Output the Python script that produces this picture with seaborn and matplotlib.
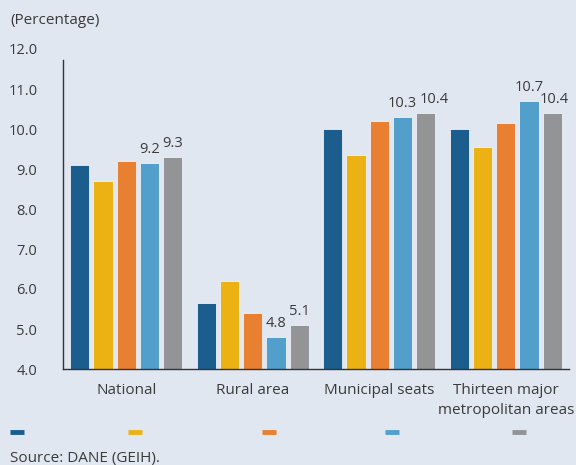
import matplotlib
matplotlib.use("Agg")
import matplotlib.pyplot as plt
import seaborn as sns
import pandas as pd
from matplotlib.lines import Line2D
from matplotlib.ticker import FixedLocator

categories = ["National", "Rural area", "Municipal seats", "Thirteen major\nmetropolitan areas"]
series_names = ["S1", "S2", "S3", "S4", "S5"]
s1 = [9.1, 5.65, 10.0, 10.0]
s2 = [8.7, 6.2, 9.35, 9.55]
s3 = [9.2, 5.4, 10.2, 10.15]
s4 = [9.15, 4.8, 10.3, 10.7]
s5 = [9.3, 5.1, 10.4, 10.4]
yticks = [4.0, 5.0, 6.0, 7.0, 8.0, 9.0, 10.0, 11.0, 12.0]

colors = ["#1b5e8e", "#ecb214", "#e97f31", "#539fcb", "#939496"]
bg = "#e1e7f1"
txt = "#3a3a3a"

rows = []
for name, vals in zip(series_names, [s1, s2, s3, s4, s5]):
    for c, v in zip(categories, vals):
        rows.append({"category": c, "series": name, "value": v})
df = pd.DataFrame(rows)

sns.set_theme(style="white")
plt.rcParams["font.family"] = ["Open Sans", "DejaVu Sans"]

fig = plt.figure(figsize=(5.76, 4.65), dpi=100, facecolor=bg)
ax = fig.add_axes([63/576, 1-369/465, (569-63)/576, (369-49)/465])
ax.set_facecolor(bg)

sns.barplot(data=df, x="category", y="value", hue="series", palette=colors,
            width=0.92, gap=0.17, ax=ax, legend=False, edgecolor="#eef2f8", linewidth=0.6,
            saturation=1)

# labels only on last two series
label_shift = {(4, 2): 6.0, (4, 3): 1.5}
for i, cont in enumerate(ax.containers):
    if i >= 3:
        anns = ax.bar_label(cont, fmt="%.1f", padding=4, fontsize=10.5, color=txt)
        for j, a in enumerate(anns):
            if (i, j) in label_shift:
                dx, dy = a.xyann
                a.xyann = (dx + label_shift[(i, j)], dy)

ax.set_ylim(4, 12)
ax.set_yticks(yticks)
ax.set_yticklabels([f"{t:.1f}" for t in yticks])
ax.set_xlim(-0.5, 3.5)
ax.set_xlabel("")
ax.set_ylabel("")
ax.spines["left"].set_bounds(4, 11.72)
ax.tick_params(axis="y", which="major", direction="in", length=4, width=1, color="#333333",
               labelsize=10.5, labelcolor=txt, pad=18.5)
ax.yaxis.get_major_ticks()[-1].tick1line.set_visible(False)
ax.yaxis.set_minor_locator(FixedLocator([11.72]))
ax.tick_params(axis="y", which="minor", direction="in", length=4, width=1, color="#333333")
ax.tick_params(axis="x", which="major", length=0, labelsize=11, labelcolor=txt, pad=10)
ax.xaxis.set_minor_locator(FixedLocator([0.5, 1.5, 2.5]))
ax.tick_params(axis="x", which="minor", direction="in", length=4, width=1, color="#333333")
for lab in ax.get_xticklabels():
    lab.set_linespacing(1.45)
for s in ["top", "right"]:
    ax.spines[s].set_visible(False)
for s in ["left", "bottom"]:
    ax.spines[s].set_color("#333333")
    ax.spines[s].set_linewidth(1)

fig.text(10/576, 1-20/465, "(Percentage)", fontsize=11, color=txt, va="center", ha="left")
fig.text(10/576, 1-458/465, "Source: DANE (GEIH).", fontsize=11, color=txt, va="center", ha="left")

# legend markers (labels absent in original)
for x0, c in zip([10, 128, 262, 385, 512], colors):
    fig.add_artist(Line2D([x0/576, (x0+14)/576], [1-432/465, 1-432/465],
                          transform=fig.transFigure, color=c, linewidth=3.5,
                          solid_capstyle="butt"))

fig.savefig("out.png", dpi=100, facecolor=bg)
